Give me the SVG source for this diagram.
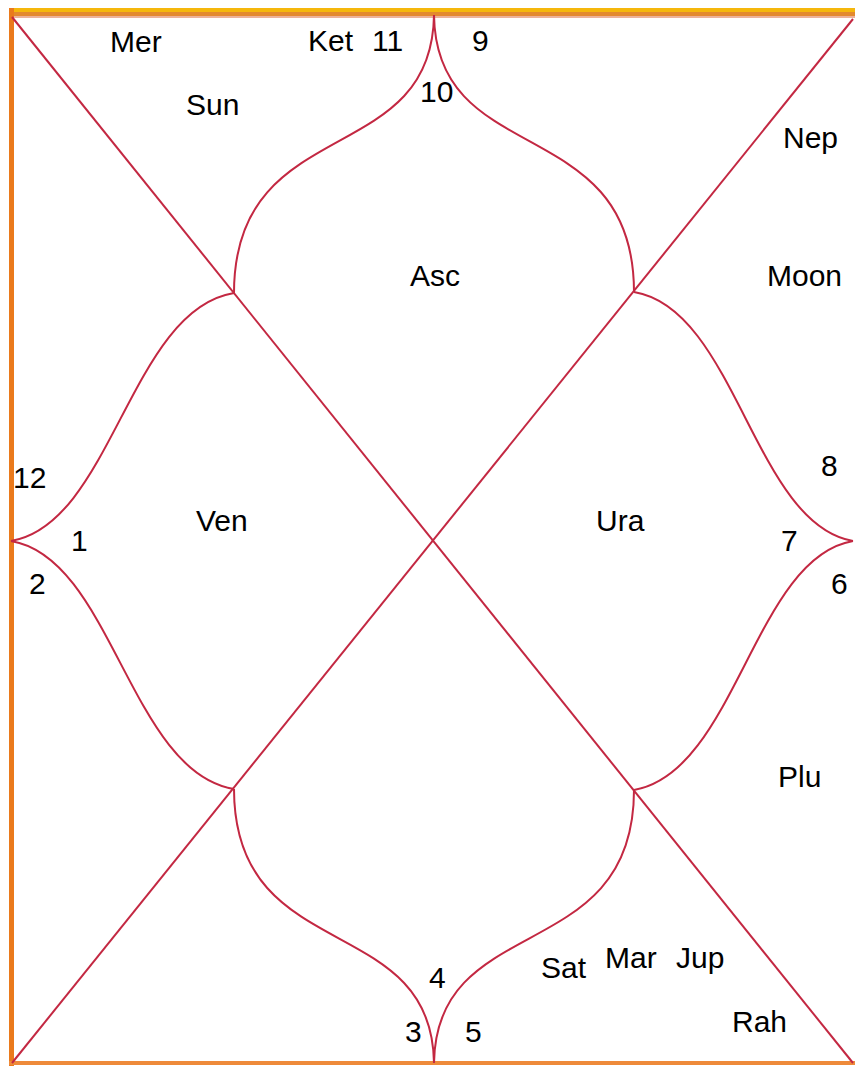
<svg xmlns="http://www.w3.org/2000/svg" width="855" height="1066" viewBox="0 0 855 1066">
<style>
  text { font-family: "Liberation Sans", Arial, sans-serif; font-size: 30px; fill: #000; }
  .ln { fill: none; stroke: #C32842; stroke-width: 2; }
</style>
<rect x="0" y="0" width="855" height="1066" fill="#ffffff"/>
<g id="border">
  <rect x="9" y="8" width="846" height="5" fill="#F5B70C"/>
  <rect x="9" y="12" width="846" height="4" fill="#E3892E"/>
  <rect x="9" y="16" width="846" height="2" fill="#EDB29A"/>
  <rect x="9" y="8" width="5" height="1058" fill="#EA7A1C"/>
  <rect x="9" y="1061" width="846" height="4" fill="#EE8A3A"/>
</g>
<g id="connectors">
  <path class="ln" d="M12,17 L853,1063"/>
  <path class="ln" d="M853,19 L12,1063"/>
  <path class="ln" d="M434,15 C432,170 234,112 234,293"/>
  <path class="ln" d="M434,15 C436,170 634,112 634,292"/>
  <path class="ln" d="M234,293 C130,310 112,524 11,541"/>
  <path class="ln" d="M634,292 C736,309 754,524 853,541"/>
  <path class="ln" d="M11,541 C112,558 130,772 234,789"/>
  <path class="ln" d="M853,541 C754,558 736,772 634,790"/>
  <path class="ln" d="M434,1063 C432,910 234,967 234,789"/>
  <path class="ln" d="M434,1063 C436,910 634,967 634,790"/>
</g>
<g id="house1"><text x="420" y="102">10</text><text x="410" y="286">Asc</text></g>
<g id="house2"><text x="372" y="51">11</text><text x="308" y="51">Ket</text><text x="110" y="52">Mer</text><text x="186" y="115">Sun</text></g>
<g id="house3"><text x="13" y="488">12</text></g>
<g id="house4"><text x="71" y="551">1</text><text x="196" y="531">Ven</text></g>
<g id="house5"><text x="29" y="594">2</text></g>
<g id="house6"><text x="405" y="1042">3</text></g>
<g id="house7"><text x="429" y="988">4</text></g>
<g id="house8"><text x="465" y="1042">5</text><text x="541" y="978">Sat</text><text x="605" y="968">Mar</text><text x="676" y="968">Jup</text><text x="732" y="1032">Rah</text></g>
<g id="house9"><text x="831" y="594">6</text><text x="778" y="787">Plu</text></g>
<g id="house10"><text x="781" y="551">7</text><text x="596" y="531">Ura</text></g>
<g id="house11"><text x="821" y="476">8</text><text x="767" y="286">Moon</text></g>
<g id="house12"><text x="472" y="51">9</text><text x="783" y="148">Nep</text></g>
</svg>
